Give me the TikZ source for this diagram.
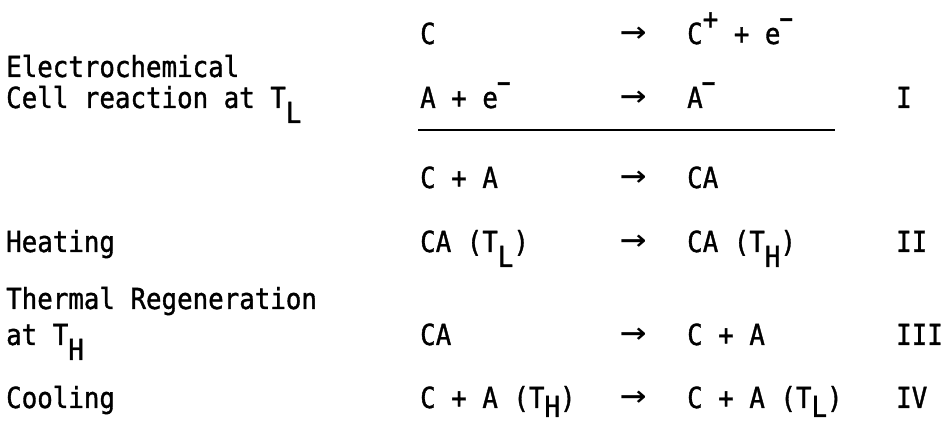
\documentclass[tikz,border=0pt]{standalone}
\usepackage{fontspec}
\newfontfamily\tw[FakeStretch=0.89,FakeBold=1.2]{DejaVu Sans Mono}
\newfontfamily\twl[FakeStretch=0.89]{DejaVu Sans Mono}
\newcommand\tsub[1]{\raisebox{-15pt}[0pt][0pt]{#1}}
\newcommand\tsubb[1]{\raisebox{-9pt}[0pt][0pt]{#1}}
\newcommand\tsup[1]{\raisebox{15pt}{#1}}
\newcommand\tminus{\raisebox{14pt}{\scalebox{0.75}[1.3]{–}}}
\newcommand\tarrow{{\twl\scalebox{1.7}[1.3]{→}}}
\begin{document}
\begin{tikzpicture}[x=1pt,y=1pt,
  txt/.style={anchor=base west, inner sep=0pt, font=\tw\fontsize{29}{29}\selectfont},
  rule/.style={line width=2.4pt}]
\useasboundingbox (0,0) rectangle (944,425);
% left labels
\node[txt] (l1a) at (6,{425-77}) {Electrochemical};
\node[txt] (l1b) at (6,{425-108}) {Cell reaction at T\tsub{L}};
\node[txt] (l2)  at (6,{425-252}) {Heating};
\node[txt] (l3a) at (6,{425-309}) {Thermal Regeneration};
\node[txt] (l3b) at (6,{425-345}) {at T\tsub{H}};
\node[txt] (l4)  at (6,{425-408}) {Cooling};
% row 1
\node[txt] (r1l) at (420,{425-44}) {C};
\node[txt] (r1a) at (620,{425-44}) {\tarrow};
\node[txt] (r1r) at (687,{425-44}) {C\tsup{+} + e\tminus};
% row 2
\node[txt] (r2l) at (420,{425-108}) {A + e\tminus};
\node[txt] (r2a) at (620,{425-108}) {\tarrow};
\node[txt] (r2r) at (687,{425-108}) {A\tminus};
\node[txt] (n1)  at (896,{425-108}) {I};
% rule
\coordinate (ruleL) at (418,{425-130});
\coordinate (ruleR) at (835,{425-130});
\draw[rule] (ruleL) -- (ruleR);
% row 3
\node[txt] (r3l) at (420,{425-188}) {C + A};
\node[txt] (r3a) at (620,{425-188}) {\tarrow};
\node[txt] (r3r) at (687,{425-188}) {CA};
% row II
\node[txt] (r4l) at (420,{425-252}) {CA (T\tsub{L})};
\node[txt] (r4a) at (620,{425-252}) {\tarrow};
\node[txt] (r4r) at (687,{425-252}) {CA (T\tsub{H})};
\node[txt] (n2)  at (896,{425-252}) {II};
% row III
\node[txt] (r5l) at (420,{425-345}) {CA};
\node[txt] (r5a) at (620,{425-345}) {\tarrow};
\node[txt] (r5r) at (687,{425-345}) {C + A};
\node[txt] (n3)  at (896,{425-345}) {III};
% row IV
\node[txt] (r6l) at (420,{425-408}) {C + A (T\tsubb{H})};
\node[txt] (r6a) at (620,{425-408}) {\tarrow};
\node[txt] (r6r) at (687,{425-408}) {C + A (T\tsubb{L})};
\node[txt] (n4)  at (896,{425-408}) {IV};
\end{tikzpicture}
\end{document}
